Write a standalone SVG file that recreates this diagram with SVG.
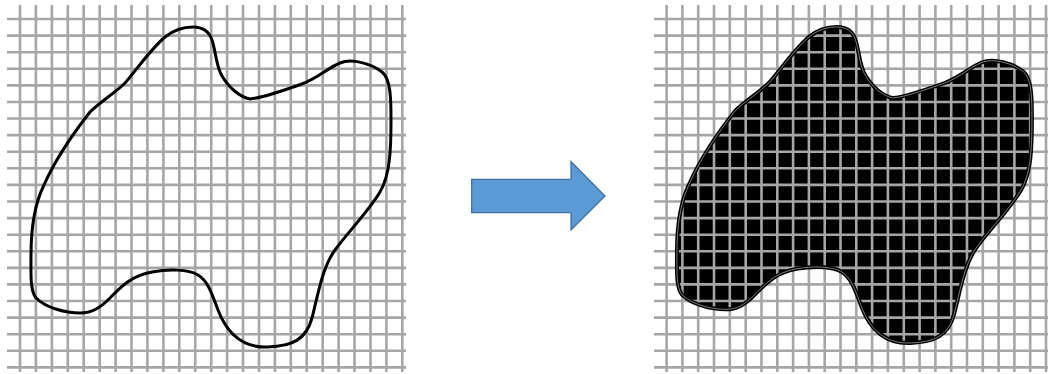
<svg xmlns="http://www.w3.org/2000/svg" width="1048" height="374" viewBox="0 0 1048 374">
  <style>
    .grid { fill: none; stroke: #a6a6a6; stroke-width: 2.6; }
    .outline { fill: none; stroke: #000000; stroke-width: 3; stroke-linejoin: round; }
    .outline-r { fill: none; stroke: #000000; stroke-width: 4; stroke-linejoin: round; }
    .inner-light { fill: none; stroke: #cfcfcf; stroke-width: 0.6; }
    .blob-fill { fill: #000000; stroke: none; }
    .arrow { fill: #5b9bd5; stroke: #41719c; stroke-width: 1.3; }
  </style>
  <defs>
    <path id="blob" d="M193,27 C203,27 209,31 212,40 C216,52 216,66 222,76 C229,88 240,97 250,99 C262,98 285,90 302,84 C318,78 328,68 340,63 C352,58 372,64 382,72 C391,79 391,100 391,120 C391,150 390,175 380,192 C368,212 348,232 335,250 C322,268 318,295 312,318 C306,340 292,346 268,347 C244,348 228,336 218,310 C212,294 208,281 198,275 C188,269 168,269 152,272 C130,276 120,288 110,298 C100,308 92,313 80,313 C66,313 46,308 36,298 C30,290 31,275 31,255 C31,230 34,205 44,185 C55,160 72,135 90,112 C100,102 115,93 125,83 C138,68 150,50 165,37 C175,29 185,27 193,27 Z"/>
  </defs>

  <g id="left-grid">
    <path class="grid" d="M7,19H406M7,35.6H406M7,52.2H406M7,68.8H406M7,85.4H406M7,102H406M7,118.5H406M7,135.1H406M7,151.7H406M7,168.3H406M7,184.9H406M7,201.5H406M7,218.1H406M7,234.7H406M7,251.3H406M7,267.9H406M7,284.4H406M7,301H406M7,317.6H406M7,334.2H406M7,350.8H406M7,367.4H406"/>
    <path class="grid" d="M20,5V372M35.9,5V372M51.9,5V372M67.8,5V372M83.7,5V372M99.7,5V372M115.6,5V372M131.5,5V372M147.4,5V372M163.4,5V372M179.3,5V372M195.2,5V372M211.2,5V372M227.1,5V372M243,5V372M259,5V372M274.9,5V372M290.8,5V372M306.7,5V372M322.7,5V372M338.6,5V372M354.5,5V372M370.5,5V372M386.4,5V372M402.3,5V372"/>
  </g>

  <g id="left-shape">
    <use href="#blob" class="outline"/>
  </g>

  <g id="connectors">
    <polygon class="arrow" points="471.7,179.3 571,179.3 571,161.7 605,196 571,230 571,212.7 471.7,212.7"/>
  </g>

  <g id="right-fill">
    <use href="#blob" class="blob-fill" transform="matrix(0.986 0 0 0.9875 646.4 0.3)"/>
  </g>

  <g id="right-grid">
    <path class="grid" d="M654,19H1048M654,35.6H1048M654,52.2H1048M654,68.8H1048M654,85.4H1048M654,102H1048M654,118.5H1048M654,135.1H1048M654,151.7H1048M654,168.3H1048M654,184.9H1048M654,201.5H1048M654,218.1H1048M654,234.7H1048M654,251.3H1048M654,267.9H1048M654,284.4H1048M654,301H1048M654,317.6H1048M654,334.2H1048M654,350.8H1048M654,367.4H1048"/>
    <path class="grid" d="M666.6,5V372M682.4,5V372M698.2,5V372M714,5V372M729.8,5V372M745.7,5V372M761.5,5V372M777.3,5V372M793.1,5V372M808.9,5V372M824.7,5V372M840.5,5V372M856.3,5V372M872.1,5V372M887.9,5V372M903.8,5V372M919.6,5V372M935.4,5V372M951.2,5V372M967,5V372M982.8,5V372M998.6,5V372M1014.4,5V372M1030.2,5V372M1046,5V372"/>
  </g>

  <g id="right-shape">
    <use href="#blob" class="outline-r" transform="matrix(0.986 0 0 0.9875 646.4 0.3)"/>
    <use href="#blob" class="inner-light" transform="matrix(0.986 0 0 0.9875 646.4 0.3)"/>
  </g>
</svg>
